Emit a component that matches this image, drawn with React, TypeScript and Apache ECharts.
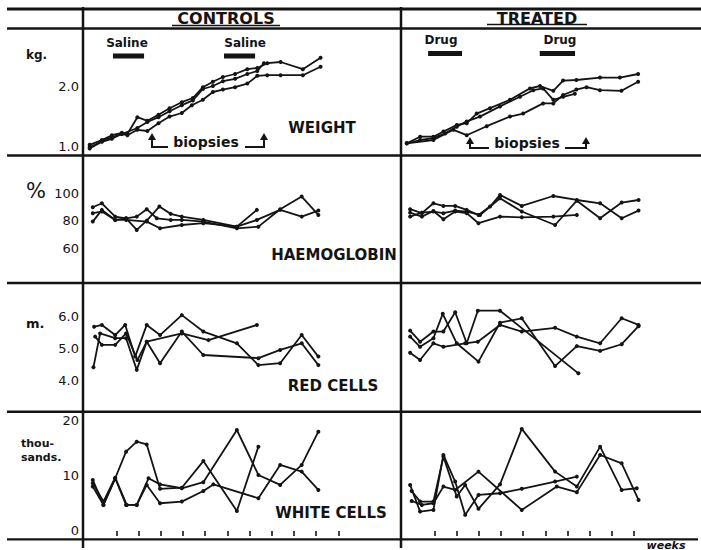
import React, { useEffect, useRef } from 'react';
import * as echarts from 'echarts';

const INK = '#141414';
const FONT = '"DejaVu Sans", "Liberation Sans", sans-serif';

// ---- x ticks (weeks) ----
const weekTicksControls = [1, 2, 3, 4, 5, 6, 7, 8, 9, 10, 11];
const weekTicksTreated = [1, 2, 3, 4, 5, 6, 7, 8, 9, 10];

// ---- y tick labels ----
const weightTicks = [1, 2];
const haemTicks = [60, 80, 100];
const redTicks = [4, 5, 6];
const whiteTicks = [0, 10, 20];

// ---- WEIGHT (kg) : [week, value] ----
const ctrlWeight1 = [[-0.2, 1.02], [0.35, 1.1], [0.8, 1.18], [1.25, 1.22], [1.5, 1.2], [1.95, 1.48], [2.4, 1.42], [2.9, 1.52], [3.4, 1.63], [3.95, 1.73], [4.45, 1.8], [4.9, 1.98], [5.35, 2.07], [5.8, 2.15], [6.35, 2.2], [6.9, 2.28], [7.35, 2.3], [7.8, 2.38], [8.4, 2.4], [9.4, 2.28], [10.2, 2.47]];
const ctrlWeight2 = [[-0.2, 0.98], [0.35, 1.08], [0.8, 1.15], [1.25, 1.2], [1.95, 1.3], [2.4, 1.4], [2.9, 1.48], [3.4, 1.58], [3.95, 1.68], [4.45, 1.76], [4.9, 1.95], [5.35, 2.0], [5.8, 2.08], [6.35, 2.12], [6.9, 2.2], [7.35, 2.25], [7.65, 2.38]];
const ctrlWeight3 = [[-0.2, 0.96], [0.35, 1.07], [0.8, 1.12], [1.25, 1.2], [1.5, 1.18], [1.95, 1.27], [2.4, 1.25], [2.9, 1.38], [3.4, 1.49], [3.95, 1.55], [4.4, 1.68], [4.9, 1.77], [5.35, 1.9], [5.8, 1.94], [6.35, 1.98], [6.9, 2.04], [7.35, 2.17], [7.8, 2.18], [8.4, 2.18], [9.4, 2.18], [10.2, 2.32]];
const trtWeight1 = [[-0.24, 1.045], [0.36, 1.155], [0.96, 1.155], [1.41, 1.24], [2.01, 1.35], [2.46, 1.38], [2.91, 1.54], [3.51, 1.63], [4.41, 1.77], [5.31, 1.96], [5.76, 2.0], [6.36, 1.92], [6.8, 2.09], [7.4, 2.1], [8.46, 2.14], [9.36, 2.14], [10.18, 2.2]];
const trtWeight2 = [[-0.24, 1.045], [0.36, 1.1], [0.96, 1.13], [1.49, 1.21], [2.01, 1.32], [2.46, 1.41], [3.06, 1.49], [3.96, 1.66], [4.86, 1.82], [5.46, 1.93], [5.9, 1.96], [6.36, 1.77], [6.8, 1.82], [7.33, 1.87]];
const trtWeight3 = [[-0.24, 1.045], [0.96, 1.1], [1.86, 1.27], [2.46, 1.18], [3.36, 1.33], [4.41, 1.49], [5.0, 1.54], [5.9, 1.71], [6.36, 1.71], [6.8, 1.85], [7.4, 1.94], [7.86, 1.98], [8.46, 1.93], [9.43, 1.92], [10.18, 2.07]];

// ---- HAEMOGLOBIN (%) ----
const ctrlHaem1 = [[-0.06, 89.8], [0.35, 92.7], [0.95, 83], [1.44, 81.8], [1.92, 73.3], [2.37, 80.1], [2.94, 90.3], [3.45, 85], [3.95, 83], [4.92, 80.6], [6.43, 75.7], [7.33, 87.9]];
const ctrlHaem2 = [[-0.06, 85.5], [0.35, 86.7], [0.95, 80.6], [1.44, 81.8], [1.92, 83], [2.37, 88.4], [2.82, 81.8], [3.45, 80.6], [3.95, 80.6], [4.92, 79.4], [6.43, 74.5], [7.4, 75.7], [8.38, 88.4], [9.35, 97.6], [10.1, 84.2]];
const ctrlHaem3 = [[-0.06, 79.4], [0.35, 87.9], [0.95, 80.6], [1.44, 80.6], [2.37, 79.4], [2.97, 74.5], [3.95, 76.9], [4.92, 78.2], [6.43, 75.7], [7.33, 80.6], [8.38, 87.9], [9.35, 83], [10.1, 87.4]];
const trtHaem1 = [[-0.09, 88.4], [0.44, 85.5], [0.96, 92.7], [1.41, 90.8], [1.94, 90.8], [2.46, 87.9], [2.99, 84.2], [3.51, 90.3], [3.96, 98.8], [4.94, 90.8], [6.36, 98], [7.42, 95.1], [8.47, 92.7], [9.44, 81.8], [10.2, 87.4]];
const trtHaem2 = [[-0.09, 85.9], [0.44, 83], [0.96, 87.1], [1.41, 81.1], [1.94, 86.7], [2.46, 85.5], [2.99, 78.2], [3.96, 83], [4.94, 82.5], [6.36, 83], [7.42, 84.2]];
const trtHaem3 = [[-0.09, 83], [0.44, 85.9], [0.96, 86.7], [1.41, 85.5], [1.94, 87.4], [2.46, 86.7], [3.06, 84.2], [3.96, 96.4], [4.94, 86.7], [6.44, 76.9], [7.42, 94.6], [8.47, 81.8], [9.44, 93.2], [10.2, 95.1]];

// ---- RED CELLS (millions) ----
const ctrlRed1 = [[0, 5.68], [0.35, 5.74], [0.95, 5.42], [1.4, 5.74], [1.85, 4.74], [2.37, 5.74], [2.97, 5.42], [3.95, 6.05], [4.92, 5.53], [6.43, 5.16], [7.4, 4.47], [8.38, 4.53], [9.35, 5.42], [10.1, 4.74]];
const ctrlRed2 = [[0.05, 5.37], [0.35, 5.11], [0.95, 5.11], [1.44, 5.47], [1.95, 4.63], [2.37, 5.21], [3.95, 5.47], [5.15, 5.26], [7.33, 5.74]];
const ctrlRed3 = [[-0.03, 4.4], [0.27, 5.47], [0.95, 5.32], [1.44, 5.32], [1.92, 4.32], [2.37, 5.21], [2.97, 4.53], [3.95, 5.53], [4.92, 4.79], [7.4, 4.69], [8.38, 4.95], [9.35, 5.16], [10.1, 4.47]];
const trtRed1 = [[-0.09, 5.56], [0.36, 5.21], [0.96, 5.53], [1.41, 5.53], [1.94, 6.14], [2.46, 5.16], [2.96, 6.19], [3.96, 6.19], [7.49, 4.21]];
const trtRed2 = [[-0.09, 5.37], [0.36, 5.05], [0.96, 5.32], [1.38, 6.09], [2.01, 5.16], [2.99, 4.58], [3.96, 5.81], [4.94, 5.95], [6.44, 4.44], [7.42, 5.07], [8.47, 4.92], [9.44, 5.13], [10.2, 5.7]];
const trtRed3 = [[-0.09, 4.86], [0.36, 4.63], [0.96, 5.16], [1.41, 5.05], [2.39, 5.16], [2.96, 5.21], [3.96, 5.74], [4.94, 5.53], [6.44, 5.65], [7.42, 5.37], [8.47, 5.16], [9.44, 5.95], [10.2, 5.74]];

// ---- WHITE CELLS (thousands) ----
const ctrlWhite1 = [[-0.06, 9.2], [0.42, 4.7], [0.95, 9.5], [1.44, 14.3], [1.92, 16.1], [2.37, 15.6], [2.97, 7.6], [3.95, 7.8], [4.92, 12.6], [6.43, 3.6], [7.4, 15.2]];
const ctrlWhite2 = [[-0.06, 8.6], [0.42, 5.3], [0.95, 9.6], [1.47, 4.7], [1.92, 4.7], [2.45, 9.5], [2.97, 8.4], [3.95, 7.7], [4.92, 8.8], [6.43, 18.2], [7.4, 10.1], [8.38, 8.3], [9.35, 11.9], [10.1, 17.9]];
const ctrlWhite3 = [[-0.06, 8.0], [0.42, 4.7], [0.95, 9.5], [1.44, 4.7], [1.92, 4.7], [2.37, 8.3], [2.97, 5.0], [3.95, 5.3], [4.92, 7.2], [5.37, 8.4], [7.4, 5.9], [8.38, 11.9], [9.35, 10.7], [10.1, 7.4]];
const trtWhite1 = [[-0.09, 8.3], [0.36, 3.5], [0.96, 3.8], [1.41, 13.7], [1.94, 8.9], [2.39, 2.9], [2.99, 6.5], [3.96, 6.8], [4.94, 7.6], [6.44, 8.9], [7.42, 9.8]];
const trtWhite2 = [[-0.02, 7.2], [0.36, 5.3], [0.96, 5.3], [1.41, 13.4], [2.01, 6.2], [2.39, 8.3], [2.99, 4.0], [3.96, 8.4], [4.94, 18.4], [6.44, 10.7], [7.42, 8.0], [8.47, 15.2], [9.44, 7.4], [10.12, 7.7]];
const trtWhite3 = [[-0.02, 5.4], [0.44, 4.7], [0.96, 5.0], [1.41, 8.0], [1.94, 7.4], [2.99, 10.7], [4.94, 3.8], [6.52, 8.0], [7.42, 7.0], [8.47, 13.7], [9.44, 12.2], [10.2, 5.6]];

// ---- treatment periods (weeks) and their labels ----
const salinePeriods = [[0.85, 2.25], [5.85, 7.25]];
const salineLabelWeeks = [1.48, 6.8];
const drugPeriods = [[0.72, 2.25], [5.75, 7.34]];
const drugLabelWeeks = [1.3, 6.66];

// ---- layout ----
const columns = [
  { left: 83, width: 317.5, max: 13.8, ticks: weekTicksControls },
  { left: 401, width: 299.7, max: 13.0, ticks: weekTicksTreated },
];
const rows = [
  { top: 26, height: 132, min: 0.8, max: 3.0, labels: weightTicks, fmt: (v: number) => v.toFixed(1), data: [[ctrlWeight1, ctrlWeight2, ctrlWeight3], [trtWeight1, trtWeight2, trtWeight3]] },
  { top: 152, height: 137.5, min: 30, max: 130, labels: haemTicks, fmt: (v: number) => String(v), data: [[ctrlHaem1, ctrlHaem2, ctrlHaem3], [trtHaem1, trtHaem2, trtHaem3]] },
  { top: 285.05, height: 126.6, min: 3, max: 7, labels: redTicks, fmt: (v: number) => v.toFixed(1), data: [[ctrlRed1, ctrlRed2, ctrlRed3], [trtRed1, trtRed2, trtRed3]] },
  { top: 411.7, height: 127.6, min: -1.5, max: 21.5, labels: whiteTicks, fmt: (v: number) => String(v), data: [[ctrlWhite1, ctrlWhite2, ctrlWhite3], [trtWhite1, trtWhite2, trtWhite3]] },
];

function hline(x1: number, x2: number, y: number, w: number) {
  return { type: 'line', silent: true, shape: { x1, y1: y, x2, y2: y }, style: { stroke: INK, lineWidth: w } };
}
function vline(x: number, y1: number, y2: number, w: number) {
  return { type: 'line', silent: true, shape: { x1: x, y1, x2: x, y2 }, style: { stroke: INK, lineWidth: w } };
}
function txt(text: string, x: number, y: number, size: number, align = 'center', weight = 'bold', italic = false) {
  return {
    type: 'text', silent: true, x, y,
    style: {
      text, fill: INK, fontSize: size, fontWeight: weight, fontFamily: FONT, fontStyle: italic ? 'italic' : 'normal',
      align, textAlign: align, verticalAlign: 'middle', textVerticalAlign: 'middle',
    },
  };
}
function poly(points: number[][]) {
  return { type: 'polyline', silent: true, shape: { points }, style: { stroke: INK, lineWidth: 2, fill: null } };
}
function arrow(x: number, tip: number) {
  return { type: 'polygon', silent: true, shape: { points: [[x - 4, tip + 7], [x + 4, tip + 7], [x, tip]] }, style: { fill: INK } };
}

function buildOption() {
  const grid: any[] = [];
  const xAxis: any[] = [];
  const yAxis: any[] = [];
  const series: any[] = [];

  rows.forEach((r, ri) => {
    columns.forEach((c, ci) => {
      const g = ri * 2 + ci;
      grid.push({ left: c.left, top: r.top, width: c.width, height: r.height, containLabel: false });
      xAxis.push({
        type: 'value', gridIndex: g, min: -0.5, max: c.max,
        axisLine: { show: false }, splitLine: { show: false }, axisLabel: { show: false },
        axisTick: ri === 3
          ? { show: true, customValues: c.ticks, length: 5, inside: false, lineStyle: { color: INK, width: 1.6 } }
          : { show: false },
      });
      yAxis.push({
        type: 'value', gridIndex: g, min: r.min, max: r.max,
        axisLine: { show: false }, axisTick: { show: false }, splitLine: { show: false },
        axisLabel: ci === 0
          ? { show: true, customValues: r.labels, formatter: r.fmt, color: INK, fontSize: 13, fontFamily: FONT, margin: 4 }
          : { show: false },
      });
      r.data[ci].forEach((d) => {
        series.push({
          type: 'line', xAxisIndex: g, yAxisIndex: g, data: d,
          symbol: 'circle', symbolSize: 4, showSymbol: true, silent: true,
          lineStyle: { color: INK, width: 1.8 }, itemStyle: { color: INK }, z: 3,
        });
      });
    });
  });

  const addPeriods = (periods: number[][], labelWeeks: number[], label: string, g: number, barY: number, labelY: number) => {
    periods.forEach((p) => {
      series.push({
        type: 'line', xAxisIndex: g, yAxisIndex: g, data: [[p[0], barY], [p[1], barY]],
        symbol: 'none', silent: true, lineStyle: { color: INK, width: 5, cap: 'butt' },
      });
    });
    series.push({
      type: 'scatter', xAxisIndex: g, yAxisIndex: g, silent: true,
      data: labelWeeks.map((w) => [w, labelY]), symbolSize: 1, itemStyle: { color: '#ffffff', opacity: 1 },
      label: { show: true, position: 'inside', formatter: label, color: INK, opacity: 1, fontSize: 12, fontWeight: 'bold', fontFamily: FONT },
    });
  };
  addPeriods(salinePeriods, salineLabelWeeks, 'Saline', 0, 2.5, 2.72);
  addPeriods(drugPeriods, drugLabelWeeks, 'Drug', 1, 2.54, 2.76);

  const elements: any[] = [
    hline(7, 701, 9, 3),
    hline(7, 701, 28.5, 2.5),
    hline(7, 701, 155.5, 2.5),
    hline(7, 701, 283, 2.5),
    hline(7, 701, 411.7, 2.5),
    hline(7, 698, 539.3, 2.2),
    vline(83, 7, 548, 2.5),
    vline(401, 7, 548, 2.5),
    hline(172, 280, 25.5, 1.5),
    hline(487, 587, 24.5, 1.5),
    txt('CONTROLS', 226, 18, 16),
    txt('TREATED', 537, 18, 16),
    txt('WEIGHT', 322, 128, 15),
    txt('HAEMOGLOBIN', 334, 255, 15),
    txt('RED CELLS', 333, 386, 15),
    txt('WHITE CELLS', 331, 513, 15),
    txt('kg.', 26, 55, 12, 'left'),
    txt('%', 36, 191, 21, 'center', 'normal'),
    txt('m.', 26, 323, 13, 'left'),
    txt('thou-', 21, 443, 11, 'left'),
    txt('sands.', 21, 457, 11, 'left'),
    txt('weeks', 666, 545, 11, 'center', 'bold', true),
    // biopsies, controls
    poly([[152, 139], [152, 147], [168, 147]]),
    arrow(152, 133),
    txt('biopsies', 206, 142, 14),
    poly([[245, 147], [264, 147], [264, 139]]),
    arrow(264, 133),
    // biopsies, treated
    poly([[470, 143], [470, 148], [489, 148]]),
    arrow(470, 137),
    txt('biopsies', 527, 143, 14),
    poly([[565, 148], [586, 148], [586, 143]]),
    arrow(586, 137),
  ];

  return {
    animation: false,
    backgroundColor: '#ffffff',
    grid, xAxis, yAxis, series,
    graphic: { elements },
  };
}

export default function App() {
  const ref = useRef<HTMLDivElement>(null);
  useEffect(() => {
    document.body.style.margin = '0';
    const chart = echarts.init(ref.current as HTMLDivElement, null, { renderer: 'svg' });
    chart.setOption(buildOption() as any);
    return () => chart.dispose();
  }, []);
  return <div ref={ref} style={{ width: 701, height: 550, background: '#fff' }} />;
}
